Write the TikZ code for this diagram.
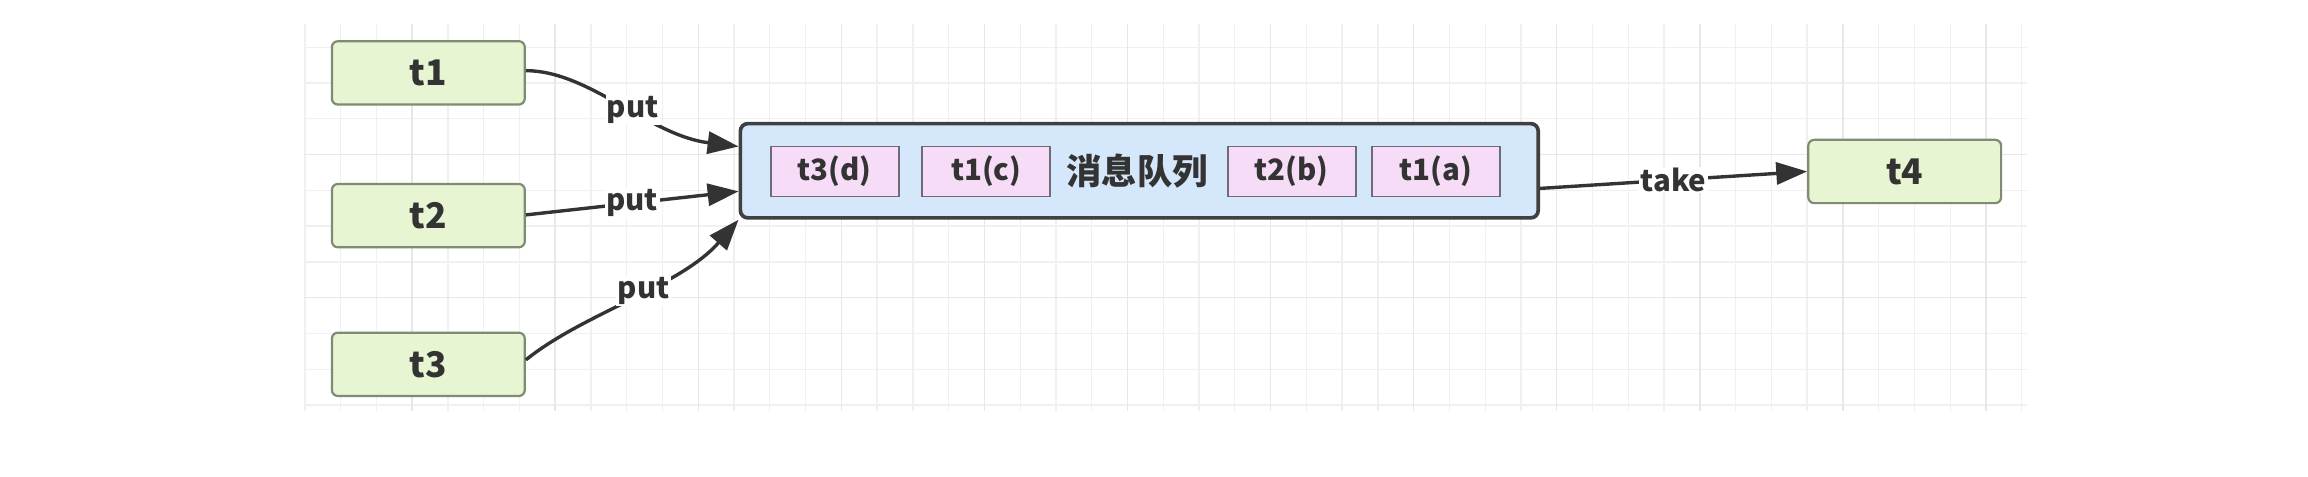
\documentclass[tikz,border=0pt]{standalone}
\usepackage{fontspec}
\setmainfont{Noto Sans CJK SC}
\usetikzlibrary{arrows.meta}
\definecolor{gfill}{HTML}{E8F5D3}
\definecolor{gline}{HTML}{7F8C74}
\definecolor{pfill}{HTML}{F7DCF7}
\definecolor{pline}{HTML}{6E6A78}
\definecolor{qfill}{HTML}{D5E7FB}
\definecolor{qline}{HTML}{404040}
\definecolor{txt}{HTML}{333333}
\definecolor{gridminor}{HTML}{F0F0F0}
\definecolor{gridmajor}{HTML}{E7E7E7}
\begin{document}
\begin{tikzpicture}[x=1pt,y=1pt,
  tnode/.style={rectangle, rounded corners=4pt, fill=gfill, draw=gline, line width=1.5pt,
    minimum width=131pt, minimum height=43pt, inner sep=0pt, text=txt,
    font=\fontsize{24}{28}\selectfont\bfseries},
  qnode/.style={rectangle, rounded corners=5pt, fill=qfill, draw=qline, line width=2.5pt,
    minimum width=542pt, minimum height=64pt, inner sep=0pt},
  pnode/.style={rectangle, fill=pfill, draw=pline, line width=1.3pt,
    minimum width=87pt, minimum height=34pt, inner sep=0pt, text=txt,
    font=\fontsize{20}{24}\selectfont\bfseries},
  qtext/.style={text=txt, inner sep=0pt, font=\fontsize{24}{28}\selectfont\bfseries},
  conn/.style={draw=txt, line width=2.3pt, -{Triangle[length=21pt,width=15pt]}},
  lbl/.style={fill=white, inner sep=1pt, text=txt, font=\fontsize{20}{24}\selectfont\bfseries},
  gminor/.style={draw=gridminor, line width=0.9pt},
  gmajor/.style={draw=gridmajor, line width=1pt}]
\useasboundingbox (0,0) rectangle (1568,-323.4);
\fill[white] (0,0) rectangle (1568,-323.4);
% grid
\foreach \i in {-3,...,45} {
  \pgfmathsetmacro\xx{280+24.3*\i}
  \draw[gminor] (\xx,-16) -- (\xx,-279);
}
\foreach \j in {-3,...,7} {
  \pgfmathsetmacro\yy{-105-24.3*\j}
  \draw[gminor] (207,\yy) -- (1377,\yy);
}
\foreach \i in {0,...,11} {
  \pgfmathsetmacro\xx{280+97.2*\i}
  \draw[gmajor] (\xx,-16) -- (\xx,-279);
}
\foreach \j in {0,1} {
  \pgfmathsetmacro\yy{-105-97.2*\j}
  \draw[gmajor] (207,\yy) -- (1377,\yy);
}
% nodes
\node[tnode] (t1) at (291,-49.5) {t1};
\node[tnode] (t2) at (291,-146.5) {t2};
\node[tnode] (t3) at (291,-247.5) {t3};
\node[tnode] (t4) at (1294,-116.5) {t4};
\node[qnode] (q) at (774,-116) {};
\node[pnode] (p1) at (567,-116.5) {t3(d)};
\node[pnode] (p2) at (670,-116.5) {t1(c)};
\node[qtext] (qt) at (772.5,-116) {消息队列};
\node[pnode] (p3) at (877.5,-116.5) {t2(b)};
\node[pnode] (p4) at (975.5,-116.5) {t1(a)};
% connector ends on the queue
\coordinate (qa) at ([yshift=16.5pt]q.west);
\coordinate (qb) at ([yshift=-14pt]q.west);
\coordinate (qc) at (q.south west);
\coordinate (qd) at ([yshift=-12pt]q.east);
% connectors
\draw[conn] ([yshift=1.5pt]t1.east) to[out=0,in=173,out distance=43pt,in distance=61pt]
  node[lbl,pos=0.55] (l1) {put} (qa);
\draw[conn] ([yshift=0.5pt]t2.east) -- node[lbl] (l2) {put} (qb);
\draw[conn] ([yshift=3pt]t3.east) to[out=39,in=229,out distance=50pt,in distance=60pt]
  node[lbl,pos=0.55] (l3) {put} (qc);
\draw[conn] (qd) -- node[lbl] (l4) {take} (t4.west);
\end{tikzpicture}
\end{document}
